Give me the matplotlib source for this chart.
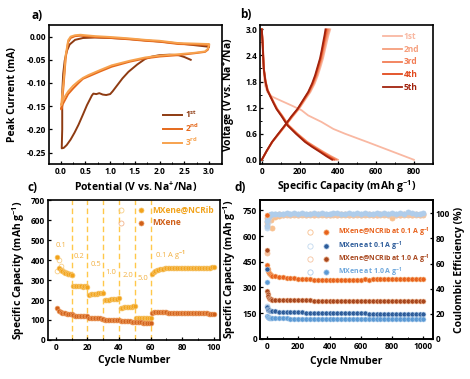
import matplotlib
matplotlib.use("Agg")
import matplotlib.pyplot as plt
from matplotlib.legend_handler import HandlerTuple
from matplotlib.lines import Line2D
from matplotlib.ticker import MultipleLocator

plt.rcParams['font.family'] = ['Open Sans', 'DejaVu Sans']
plt.rcParams['font.weight'] = 'bold'
plt.rcParams['axes.labelweight'] = 'bold'
plt.rcParams['mathtext.fontset'] = 'custom'
plt.rcParams['mathtext.rm'] = 'Open Sans:bold'
plt.rcParams['mathtext.bf'] = 'Open Sans:bold'
plt.rcParams['mathtext.default'] = 'bf'

# ---------------- a) CV curves ----------------
cv1_v = [2.63, 2.5, 2.38, 2.2, 2.0, 1.85, 1.71, 1.55, 1.37, 1.25, 1.15, 1.05, 1.0, 0.92, 0.85,
         0.78, 0.72, 0.66, 0.63, 0.53, 0.45, 0.36, 0.28, 0.2, 0.12, 0.06, 0.02, 0.03, 0.03,
         0.05, 0.08, 0.12, 0.18, 0.29, 0.45, 0.69, 1.0, 1.37, 1.7, 2.04, 2.5, 2.92, 3.0]
cv1_i = [-0.050, -0.044, -0.040, -0.039, -0.040, -0.043, -0.048, -0.060, -0.076, -0.090, -0.104,
         -0.118, -0.124, -0.126, -0.125, -0.122, -0.124, -0.123, -0.127, -0.148, -0.168, -0.190,
         -0.207, -0.222, -0.234, -0.240, -0.241, -0.200, -0.120, -0.080, -0.052, -0.032, -0.017,
         -0.007, -0.003, -0.002, -0.003, -0.005, -0.008, -0.011, -0.016, -0.021, -0.022]

cv2_v = [3.0, 2.98, 2.92, 2.7, 2.38, 2.0, 1.71, 1.4, 1.03, 0.8, 0.56, 0.45, 0.36, 0.25, 0.15,
         0.09, 0.04, 0.01, 0.03, 0.05, 0.08, 0.1, 0.15, 0.2, 0.29, 0.4, 0.49, 0.7, 1.03, 1.4,
         1.71, 2.0, 2.38, 2.7, 2.98, 3.0]
cv2_i = [-0.019, -0.028, -0.033, -0.036, -0.040, -0.043, -0.047, -0.054, -0.065, -0.075, -0.086,
         -0.091, -0.100, -0.112, -0.124, -0.136, -0.146, -0.157, -0.135, -0.115, -0.075, -0.046,
         -0.012, -0.003, 0.001, 0.002, 0.001, -0.001, -0.003, -0.006, -0.009, -0.011, -0.016,
         -0.017, -0.018, -0.019]

cv3_v = [3.0, 2.98, 2.92, 2.7, 2.38, 2.0, 1.71, 1.4, 1.03, 0.8, 0.56, 0.45, 0.36, 0.25, 0.15,
         0.09, 0.04, 0.01, 0.03, 0.05, 0.08, 0.1, 0.15, 0.2, 0.29, 0.4, 0.49, 0.7, 1.03, 1.4,
         1.71, 2.0, 2.38, 2.7, 2.98, 3.0]
cv3_i = [-0.017, -0.026, -0.032, -0.035, -0.038, -0.041, -0.045, -0.052, -0.062, -0.072, -0.083,
         -0.089, -0.096, -0.106, -0.118, -0.128, -0.138, -0.148, -0.125, -0.105, -0.068, -0.040,
         -0.008, 0.000, 0.003, 0.004, 0.003, 0.001, -0.001, -0.004, -0.007, -0.009, -0.014,
         -0.015, -0.016, -0.017]

cv_labels = ['1$^{st}$', '2$^{nd}$', '3$^{rd}$']
cv_colors = ['#8E3B12', '#E5691C', '#F7A24E']

# ---------------- b) charge / discharge ----------------
dis1_v = [3.0, 2.6, 2.2, 1.9, 1.7, 1.55, 1.45, 1.37, 1.25, 1.14, 1.02, 0.87, 0.71, 0.6,
          0.4, 0.2, 0.0]
dis1_cap = [0, 4, 8, 12, 18, 30, 55, 95, 156, 209, 244, 314, 376, 437, 560, 680, 800]

dis_v = [3.0, 2.7, 2.4, 2.1, 1.8, 1.6, 1.48, 1.3, 1.17, 1.0, 0.79, 0.6, 0.41, 0.3, 0.18, 0.08, 0.0]
dis2_cap = [0, 5, 8, 11, 21, 32, 45, 66, 82, 110, 142, 188, 240, 280, 325, 365, 400]
dis3_cap = [0, 5, 8, 11, 20, 31, 44, 65, 80, 108, 140, 185, 236, 274, 318, 356, 390]
dis4_cap = [0, 4, 7, 10, 19, 30, 43, 63, 78, 106, 137, 182, 231, 268, 311, 348, 380]
dis5_cap = [0, 4, 7, 10, 19, 29, 42, 62, 77, 104, 135, 179, 227, 263, 306, 340, 370]

chg_v = [0.0, 0.2, 0.41, 0.6, 0.79, 1.0, 1.17, 1.38, 1.56, 1.75, 1.94, 2.15, 2.33, 2.52, 2.71, 2.87, 3.0]
chg1_cap = [0, 26, 56, 92, 126, 164, 196, 228, 256, 278, 295, 310, 322, 332, 342, 351, 360]
chg2_cap = [0, 26, 55, 90, 124, 161, 193, 225, 252, 273, 290, 305, 317, 327, 336, 346, 355]
chg3_cap = [0, 26, 55, 89, 123, 160, 191, 222, 249, 270, 287, 301, 313, 322, 331, 340, 348]
chg4_cap = [0, 25, 54, 88, 122, 158, 189, 220, 246, 267, 283, 297, 309, 318, 327, 334, 340]
chg5_cap = [0, 25, 54, 87, 121, 156, 188, 218, 244, 264, 280, 294, 306, 315, 323, 330, 335]

gcd_labels = ['1st', '2nd', '3rd', '4th', '5th']
gcd_colors = ['#F9B8A2', '#F69E7C', '#F27D55', '#E24A1E', '#A1230E']

# ---------------- c) rate performance ----------------
cycles_c = list(range(1, 101))
cap_ncrib_c = [415, 360, 350, 345, 340, 336, 333, 330, 328, 326,
               272, 270, 269, 268, 268, 268, 267, 268, 268, 267,
               226, 228, 229, 230, 231, 232, 233, 234, 235, 236,
               198, 200, 201, 202, 203, 204, 205, 206, 207, 208,
               160, 162, 163, 164, 165, 166, 166, 167, 168, 169,
               108, 108, 109, 109, 110, 110, 110, 111, 111, 112,
               328, 338, 345, 350, 352, 354, 356, 357, 358, 358,
               359, 360, 360, 361, 361, 362, 361, 361, 362, 361,
               360, 361, 360, 359, 360, 358, 359, 358, 360, 359,
               360, 361, 360, 361, 362, 361, 362, 362, 363, 363]
cap_mxene_c = [160, 145, 140, 137, 135, 133, 132, 131, 130, 129,
               123, 122, 121, 121, 120, 120, 119, 119, 118, 118,
               112, 111, 110, 110, 109, 109, 108, 108, 107, 107,
               102, 101, 101, 100, 100, 99, 99, 99, 98, 98,
               96, 95, 95, 94, 94, 93, 93, 92, 92, 92,
               90, 89, 88, 88, 87, 87, 86, 86, 86, 85,
               135, 138, 139, 139, 139, 139, 138, 138, 138, 138,
               137, 137, 137, 137, 137, 136, 136, 136, 136, 136,
               135, 135, 135, 135, 135, 134, 134, 134, 134, 134,
               133, 133, 133, 133, 133, 133, 132, 132, 132, 132]
cycles_c_open = [1, 2, 3, 4, 5, 6, 7, 8, 9, 10]
cap_ncrib_c_open = [345, 398, 370, 352, 342, 338, 334, 331, 329, 327]
rate_switch = [10, 20, 30, 40, 50, 60]
rate_labels = ['0.1', '0.2', '0.5', '1.0', '2.0', '5.0', '0.1 A g$^{-1}$']
rate_label_xy = [(3.3, 474), (14.6, 419), (25.2, 378), (34.9, 340), (45.4, 323),
                 (54.9, 306), (72.5, 424)]

# ---------------- d) long cycling ----------------
cycles_d = [1, 3, 5, 8, 12, 18, 25, 35, 50, 75,
            100, 125, 150, 175, 200, 225, 250, 275, 300, 325,
            350, 375, 400, 425, 450, 475, 500, 525, 550, 575,
            600, 625, 650, 675, 700, 725, 750, 775, 800, 825,
            850, 875, 900, 925, 950, 975, 1000]
cap_ncrib_01 = [724, 430, 408, 395, 386, 378, 372, 368, 364, 362,
                360, 357, 355, 353, 352, 350, 348, 347, 346, 345,
                344, 345, 343, 344, 345, 343, 344, 345, 344, 346,
                345, 347, 346, 347, 348, 348, 347, 349, 348, 350,
                349, 350, 349, 350, 350, 349, 350]
cap_mxene_01 = [410, 185, 176, 171, 168, 165, 163, 161, 160, 158,
                157, 156, 155, 155, 154, 154, 153, 153, 152, 152,
                151, 151, 151, 150, 150, 150, 149, 149, 149, 148,
                148, 148, 147, 147, 147, 146, 146, 146, 146, 145,
                145, 145, 145, 144, 144, 144, 143]
cap_ncrib_10 = [520, 280, 262, 250, 240, 234, 230, 228, 227, 226,
                226, 225, 225, 225, 224, 224, 224, 224, 223, 223,
                223, 223, 223, 222, 222, 222, 222, 222, 221, 221,
                221, 221, 221, 221, 220, 220, 220, 220, 220, 220,
                219, 219, 219, 219, 219, 218, 218]
cap_mxene_10 = [333, 135, 128, 125, 123, 122, 121, 120, 120, 119,
                119, 119, 118, 118, 118, 118, 118, 117, 117, 117,
                117, 117, 117, 116, 116, 116, 116, 116, 116, 116,
                115, 115, 115, 115, 115, 115, 115, 114, 114, 114,
                114, 114, 114, 114, 113, 113, 113]
ce_ncrib_01 = [96, 93, 95, 96, 97, 97, 95, 88, 97, 98,
               98.6, 98.8, 98.5, 98.7, 98.9, 98.6, 98.8, 98.4, 98.7, 98.9,
               98.6, 98.8, 98.5, 98.9, 98.7, 98.6, 98.8, 98.5, 98.7, 98.6,
               98.8, 98.5, 98.9, 98.6, 98.7, 98.8, 98.6, 98.9, 96.5, 98.7,
               98.6, 98.8, 98.7, 98.5, 98.9, 98.7, 98.8]
ce_mxene_01 = [26, 88, 93, 95, 97, 98, 98.5, 99, 99.2, 99.3,
               99.4, 99.5, 99.3, 99.6, 99.4, 99.5, 99.6, 99.3, 99.5, 99.4,
               99.6, 99.5, 99.4, 99.6, 99.5, 99.3, 99.5, 99.6, 99.4, 99.5,
               99.6, 99.4, 99.5, 99.3, 99.6, 99.5, 99.4, 99.6, 99.5, 99.4,
               99.5, 99.6, 99.4, 99.5, 99.6, 99.4, 99.5]
ce_ncrib_10 = [68, 91, 95, 97, 98, 98.5, 98.8, 99, 99, 99.1,
               99.0, 99.2, 98.9, 99.1, 99.0, 99.2, 98.9, 99.1, 99.0, 99.1,
               99.2, 99.0, 98.9, 99.1, 99.0, 99.2, 99.1, 98.9, 99.0, 99.1,
               99.0, 99.2, 99.1, 98.9, 99.0, 99.1, 99.2, 99.0, 99.1, 98.9,
               99.0, 99.1, 99.2, 99.0, 99.1, 99.0, 99.1]
ce_mxene_10 = [90, 94, 96, 97.5, 98.5, 99, 99.3, 99.5, 99.6, 99.7,
               99.8, 99.9, 99.7, 100.0, 99.8, 99.9, 99.7, 99.8, 100.0, 99.8,
               99.9, 99.7, 99.8, 99.9, 100.0, 99.8, 99.7, 99.9, 99.8, 100.0,
               99.8, 99.9, 99.7, 99.8, 99.9, 99.8, 100.0, 99.7, 99.9, 99.8,
               99.9, 99.8, 101.0, 99.9, 99.8, 99.7, 99.9]
d_labels = ['MXene@NCRib at 0.1 A g$^{-1}$', 'MXene at 0.1 A g$^{-1}$',
            'MXene@NCRib at 1.0 A g$^{-1}$', 'MXene at 1.0 A g$^{-1}$']
d_cap_colors = ['#E8621C', '#2D5C9A', '#A8471E', '#5B9AD5']
d_ce_colors = ['#F8C08E', '#C2D8EE', '#F5C3A0', '#AFCDEB']

TICK = 6
LABEL = 7.5


def style_axes(ax):
    for sp in ax.spines.values():
        sp.set_linewidth(1.2)
    ax.tick_params(which='major', direction='in', length=2.5, width=0.9, labelsize=TICK, pad=2)
    ax.tick_params(which='minor', direction='in', length=1.5, width=0.7)


fig = plt.figure(figsize=(4.70, 3.79), dpi=100)

# ---- a ----
ax_a = fig.add_axes([0.104, 0.567, 0.368, 0.367])
for v, i, lab, col in zip([cv1_v, cv2_v, cv3_v], [cv1_i, cv2_i, cv3_i], cv_labels, cv_colors):
    ax_a.plot(v, i, color=col, lw=1.4, label=lab)
ax_a.set_xlim(-0.24, 3.26)
ax_a.set_ylim(-0.275, 0.025)
ax_a.xaxis.set_major_locator(MultipleLocator(0.5))
ax_a.xaxis.set_minor_locator(MultipleLocator(0.25))
ax_a.yaxis.set_major_locator(MultipleLocator(0.05))
ax_a.xaxis.set_major_formatter(lambda x, p: f"{x:.1f}")
ax_a.yaxis.set_major_formatter(lambda y, p: f"{y:.2f}")
style_axes(ax_a)
ax_a.set_xlabel('Potential (V vs. Na$^{+}$/Na)', fontsize=LABEL)
ax_a.set_ylabel('Peak Current (mA)', fontsize=LABEL)
ax_a.xaxis.set_label_coords(0.5, -0.105)
ax_a.yaxis.set_label_coords(-0.18, 0.5)
leg = ax_a.legend(loc='upper left', bbox_to_anchor=(0.66, 0.40), frameon=False,
                  fontsize=6, handlelength=2.3, handletextpad=0.3, labelspacing=0.2,
                  borderaxespad=0, borderpad=0)
for t, col in zip(leg.get_texts(), cv_colors):
    t.set_color(col)

# ---- b ----
ax_b = fig.add_axes([0.553, 0.567, 0.368, 0.367])
dis_caps = [dis1_cap, dis2_cap, dis3_cap, dis4_cap, dis5_cap]
dis_vs = [dis1_v, dis_v, dis_v, dis_v, dis_v]
chg_caps = [chg1_cap, chg2_cap, chg3_cap, chg4_cap, chg5_cap]
for k in range(5):
    ax_b.plot(dis_caps[k], dis_vs[k], color=gcd_colors[k], lw=1.3, label=gcd_labels[k])
    ax_b.plot(chg_caps[k], chg_v, color=gcd_colors[k], lw=1.3)
ax_b.set_xlim(-10, 900)
ax_b.set_ylim(-0.1, 3.1)
ax_b.xaxis.set_major_locator(MultipleLocator(200))
ax_b.xaxis.set_minor_locator(MultipleLocator(100))
ax_b.yaxis.set_major_locator(MultipleLocator(0.6))
ax_b.yaxis.set_minor_locator(MultipleLocator(0.3))
ax_b.yaxis.set_major_formatter(lambda y, p: f"{y:.1f}")
style_axes(ax_b)
ax_b.set_xlabel('Specific Capacity (mAh g$^{-1}$)', fontsize=LABEL)
ax_b.set_ylabel('Voltage (V vs. Na$^{+}$/Na)', fontsize=LABEL)
ax_b.xaxis.set_label_coords(0.5, -0.10)
ax_b.yaxis.set_label_coords(-0.135, 0.5)
leg = ax_b.legend(loc='upper left', bbox_to_anchor=(0.71, 0.95), frameon=False,
                  fontsize=6, handlelength=2.3, handletextpad=0.25, labelspacing=0.45,
                  borderaxespad=0, borderpad=0)
for t, col in zip(leg.get_texts(), gcd_colors):
    t.set_color(col)

# ---- c ----
ax_c = fig.add_axes([0.102, 0.103, 0.366, 0.369])
c_ncrib, c_mxene = '#F2A31B', '#D0601A'
for xv in rate_switch:
    ax_c.axvline(xv, color='#FFC84A', ls=(0, (4, 2.5)), lw=1.0, zorder=1)
ax_c.plot(cycles_c_open, cap_ncrib_c_open, 'o', ms=3.4, mfc='none', mec='#F8CF86', mew=0.6, zorder=2)
ax_c.plot(cycles_c, cap_ncrib_c, 'o', ms=3.4, mfc=c_ncrib, mec='#F7C469', mew=0.5, zorder=3)
ax_c.plot(cycles_c, cap_mxene_c, 'o', ms=3.4, mfc=c_mxene, mec='#EC9A5C', mew=0.5, zorder=3)
for lab, (x, y) in zip(rate_labels, rate_label_xy):
    ax_c.text(x, y, lab, fontsize=5.5, color='#F2B246', fontweight='normal', ha='center', va='center')
ax_c.set_xlim(-5, 104)
ax_c.set_ylim(0, 700)
ax_c.xaxis.set_major_locator(MultipleLocator(20))
ax_c.xaxis.set_minor_locator(MultipleLocator(10))
ax_c.yaxis.set_major_locator(MultipleLocator(100))
style_axes(ax_c)
ax_c.set_xlabel('Cycle Number', fontsize=LABEL)
ax_c.set_ylabel('Specific Capacity (mAh g$^{-1}$)', fontsize=LABEL)
ax_c.xaxis.set_label_coords(0.5, -0.105)
ax_c.yaxis.set_label_coords(-0.12, 0.5)
h_open1 = Line2D([], [], ls='none', marker='o', ms=3.6, mfc='none', mec='#F8CF86', mew=0.6)
h_fill1 = Line2D([], [], ls='none', marker='o', ms=3.6, mfc=c_ncrib, mec='#F7C469', mew=0.5)
h_open2 = Line2D([], [], ls='none', marker='o', ms=3.6, mfc='none', mec='#F3B58C', mew=0.6)
h_fill2 = Line2D([], [], ls='none', marker='o', ms=3.6, mfc=c_mxene, mec='#EC9A5C', mew=0.5)
leg = ax_c.legend([(h_open1, h_fill1), (h_open2, h_fill2)], ['MXene@NCRib', 'MXene'],
                  handler_map={tuple: HandlerTuple(ndivide=None, pad=1.6)},
                  loc='upper left', bbox_to_anchor=(0.41, 0.96), frameon=False, fontsize=6,
                  handlelength=3.0, handletextpad=1.0, labelspacing=0.45,
                  borderaxespad=0, borderpad=0)
for t, col in zip(leg.get_texts(), [c_ncrib, c_mxene]):
    t.set_color(col)

# ---- d ----
ax_d = fig.add_axes([0.553, 0.106, 0.368, 0.366])
ax_d2 = ax_d.twinx()
caps = [cap_ncrib_01, cap_mxene_01, cap_ncrib_10, cap_mxene_10]
ces = [ce_ncrib_01, ce_mxene_01, ce_ncrib_10, ce_mxene_10]
handles = []
for k in range(4):
    ax_d.plot(cycles_d, caps[k], 'o', ms=3.6, mfc=d_cap_colors[k], mec=d_ce_colors[k], mew=0.4)
    ax_d2.plot(cycles_d, ces[k], 'o', ms=3.6, mfc=d_ce_colors[k], mec=d_ce_colors[k], mew=0.6)
    ho = Line2D([], [], ls='none', marker='o', ms=3.8, mfc='none', mec=d_ce_colors[k], mew=0.6)
    hf = Line2D([], [], ls='none', marker='o', ms=3.8, mfc=d_cap_colors[k], mec=d_ce_colors[k], mew=0.5)
    handles.append((ho, hf))
ax_d.set_xlim(-45, 1060)
ax_d.set_ylim(0, 810)
ax_d2.set_ylim(0, 110.5)
ax_d.xaxis.set_major_locator(MultipleLocator(200))
ax_d.xaxis.set_minor_locator(MultipleLocator(100))
ax_d.yaxis.set_major_locator(MultipleLocator(150))
ax_d2.yaxis.set_major_locator(MultipleLocator(20))
style_axes(ax_d)
style_axes(ax_d2)
ax_d.set_xlabel('Cycle Nmuber', fontsize=LABEL)
ax_d.set_ylabel('Specific Capacity (mAh g$^{-1}$)', fontsize=LABEL)
ax_d2.set_ylabel('Coulombic Efficiency (%)', fontsize=LABEL)
ax_d.xaxis.set_label_coords(0.5, -0.125)
ax_d.yaxis.set_label_coords(-0.125, 0.5)
ax_d2.yaxis.set_label_coords(1.125, 0.5)
leg = ax_d.legend(handles, d_labels, handler_map={tuple: HandlerTuple(ndivide=None, pad=1.4)},
                  loc='upper left', bbox_to_anchor=(0.27, 0.815), frameon=False, fontsize=5,
                  handlelength=3.2, handletextpad=1.3, labelspacing=0.02,
                  borderaxespad=0, borderpad=0)
for t, col in zip(leg.get_texts(), ['#E8621C', '#2D5C9A', '#A8471E', '#6FA8DC']):
    t.set_color(col)
ax_d.set_zorder(ax_d2.get_zorder() + 1)
ax_d.patch.set_visible(False)

# panel letters
for lab, x, y in [('a)', 0.079, 0.960), ('b)', 0.523, 0.962), ('c)', 0.070, 0.504), ('d)', 0.511, 0.504)]:
    fig.text(x, y, lab, fontsize=8.5, fontweight='bold', ha='center', va='center')

fig.savefig('out.png', dpi=100)
